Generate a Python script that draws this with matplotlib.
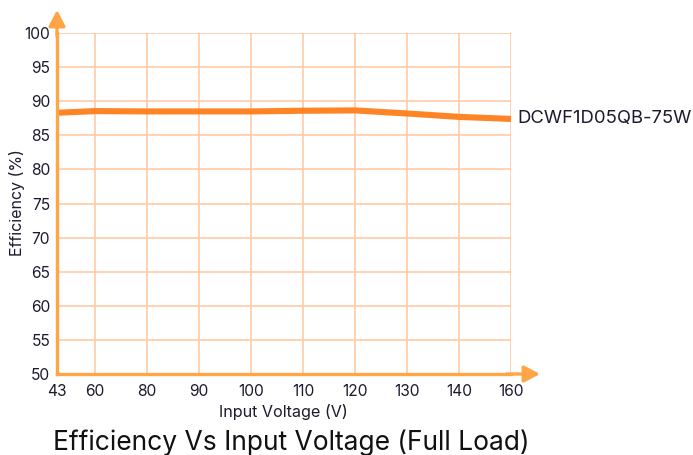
import numpy as np
import matplotlib
matplotlib.use("Agg")
import matplotlib.pyplot as plt
from matplotlib.scale import FuncScale

plt.rcParams['font.family'] = ['Inter', 'DejaVu Sans']

# ---- data ----
voltage = [43, 60, 80, 90, 100, 110, 120, 130, 140, 160]
efficiency = [88.3, 88.55, 88.5, 88.5, 88.5, 88.6, 88.65, 88.2, 87.7, 87.4]
x_ticks = [43, 60, 80, 90, 100, 110, 120, 130, 140, 160]
y_ticks = [50, 55, 60, 65, 70, 75, 80, 85, 90, 95, 100]
series_name = "DCWF1D05QB-75W"
title = "Efficiency Vs Input Voltage (Full Load)"
x_label = "Input Voltage (V)"
y_label = "Efficiency (%)"

# category-like axis: first gap shorter than the rest
cat_pos = np.array([0, 0.73, 1.73, 2.73, 3.73, 4.73, 5.73, 6.73, 7.73, 8.73])
tick_v = np.array(x_ticks, dtype=float)

def fwd(v):
    return np.interp(v, tick_v, cat_pos)

def inv(p):
    return np.interp(p, cat_pos, tick_v)

LINE = '#FF8426'
AXIS = '#FFA545'
GRID = '#FFC69C'
TXT = '#1B1B2F'

W, H = 693, 455
fig = plt.figure(figsize=(W / 100, H / 100), dpi=100)
ax = fig.add_axes([57 / W, 1 - 374 / H, (511 - 57) / W, (374 - 33) / H])

ax.set_xscale(FuncScale(ax, (fwd, inv)))
ax.plot(voltage, efficiency, color=LINE, lw=4.4, solid_capstyle='butt',
        solid_joinstyle='round', zorder=3, clip_on=False)

ax.set_xlim(43, 160)
ax.set_ylim(50, 100)
ax.set_xticks(x_ticks)
ax.set_xticklabels([str(v) for v in x_ticks])
ax.set_yticks(y_ticks)
ax.set_yticklabels([str(v) for v in y_ticks])
ax.xaxis.set_minor_locator(matplotlib.ticker.NullLocator())

ax.grid(True, color=GRID, lw=1.1, zorder=0)
ax.set_axisbelow(True)
for s in ['top', 'right']:
    ax.spines[s].set_visible(False)
for s in ['left', 'bottom']:
    ax.spines[s].set_color(AXIS)
    ax.spines[s].set_linewidth(2.4)
    ax.spines[s].set_zorder(4)

ax.tick_params(axis='both', length=0, labelsize=11.2, colors=TXT)
ax.tick_params(axis='x', pad=7.5)
ax.tick_params(axis='y', pad=5)

aw = 511 - 57
ah = 374 - 33
ax.annotate('', xy=((540 - 57) / aw, 0), xytext=(0.99, 0),
            xycoords='axes fraction',
            arrowprops=dict(arrowstyle='-|>,head_length=0.95,head_width=0.5',
                            color=AXIS, lw=2.4, shrinkA=0, shrinkB=0),
            annotation_clip=False)
ax.annotate('', xy=(0, 1 + (33 - 10) / ah), xytext=(0, 0.99),
            xycoords='axes fraction',
            arrowprops=dict(arrowstyle='-|>,head_length=0.95,head_width=0.5',
                            color=AXIS, lw=2.4, shrinkA=0, shrinkB=0),
            annotation_clip=False)

ax.annotate(series_name, xy=(voltage[-1], efficiency[-1]), xytext=(6, 0),
            textcoords='offset pixels', va='center', ha='left',
            fontsize=13.3, color=TXT, annotation_clip=False)

fig.text(283 / W, 1 - 417 / H, x_label, ha='center', va='baseline',
         fontsize=11.6, color=TXT)
fig.text(17 / W, 1 - 203 / H, y_label, ha='center', va='center',
         rotation=90, fontsize=11.5, color=TXT)
fig.text(291 / W, 1 - 450 / H, title, ha='center', va='baseline',
         fontsize=19, color='#111111')

fig.savefig('out.png', dpi=100)
